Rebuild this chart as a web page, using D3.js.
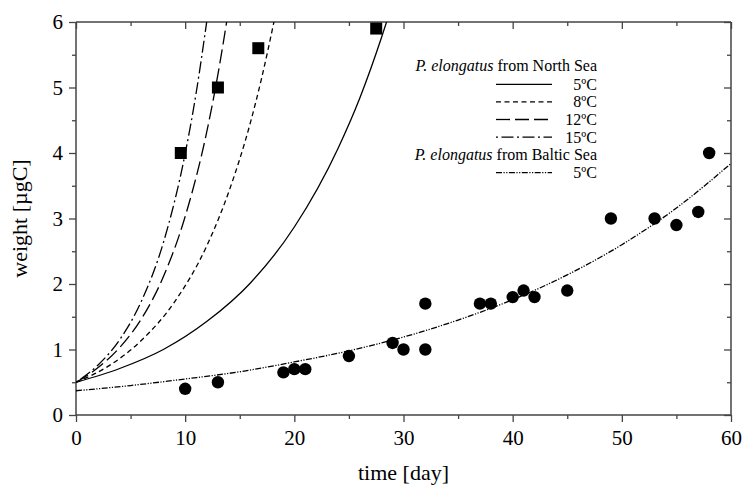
<!DOCTYPE html>
<html>
<head>
<meta charset="utf-8">
<script src="https://cdn.jsdelivr.net/npm/d3@7"></script>
<style>
  html, body { margin: 0; padding: 0; background: #fff; }
  svg { display: block; }
  text { font-family: "Liberation Serif", "Times New Roman", serif; fill: #000; }
</style>
</head>
<body>
<svg id="chart" width="744" height="487"></svg>
<script>
// Measured growth of P. elongatus: North Sea (squares), Baltic Sea (circles)
const northDays = [9.6, 13.0, 16.7, 27.5];
const northWeight = [4.0, 5.0, 5.6, 5.9];

const balticDays = [10, 13, 19, 20, 21, 25, 29, 30, 32, 32, 37, 38, 40, 41, 42, 45, 49, 53, 55, 57, 58];
const balticWeight = [0.4, 0.5, 0.65, 0.7, 0.7, 0.9, 1.1, 1.0, 1.0, 1.7, 1.7, 1.7, 1.8, 1.9, 1.8, 1.9, 3.0, 3.0, 2.9, 3.1, 4.0];

// Model growth curves (day, weight) points
const curve5Days = [0, 4, 8, 12, 16, 20, 24, 26, 28, 28.45];
const curve5Weight = [0.5, 0.71, 1.0, 1.43, 2.02, 2.87, 4.07, 4.84, 5.77, 6.0];

const curve8Days = [0, 3, 6, 9, 12, 14, 16, 17, 18.13];
const curve8Weight = [0.5, 0.75, 1.14, 1.72, 2.59, 3.41, 4.48, 5.14, 6.0];

const curve12Days = [0, 2, 4, 6, 8, 10, 12, 13, 13.8];
const curve12Weight = [0.5, 0.72, 1.03, 1.47, 2.11, 3.03, 4.34, 5.2, 6.0];

const curve15Days = [0, 2, 4, 6, 8, 10, 11, 11.97];
const curve15Weight = [0.5, 0.76, 1.15, 1.74, 2.63, 3.99, 4.91, 6.0];

const curveBalticDays = [0, 5, 10, 15, 20, 25, 30, 35, 40, 45, 50, 55, 60];
const curveBalticWeight = [0.37, 0.45, 0.55, 0.66, 0.81, 0.98, 1.19, 1.45, 1.76, 2.14, 2.6, 3.16, 3.84];

// Axis ticks
const xTicks = [0, 10, 20, 30, 40, 50, 60];
const xMinor = [5, 15, 25, 35, 45, 55];
const yTicks = [0, 1, 2, 3, 4, 5, 6];
const yMinor = [0.5, 1.5, 2.5, 3.5, 4.5, 5.5];

// Legend entries
const legendNorthLabels = ["5ºC", "8ºC", "12ºC", "15ºC"];
const legendBalticLabels = ["5ºC"];

const svg = d3.select("#chart");
const margin = { left: 76, right: 13, top: 22, bottom: 72 };
const W = 744, H = 487;
const x = d3.scaleLinear().domain([0, 60]).range([margin.left, W - margin.right]);
const y = d3.scaleLinear().domain([0, 6]).range([H - margin.bottom, margin.top]);

const dashes = {
  c5: null,
  c8: "5,3.5",
  c12: "14,5",
  c15: "2,3.5,12,3.5",
  baltic: "6,1.5,1.2,1.5,1.2,1.5"
};

svg.append("defs").append("clipPath").attr("id", "plotClip")
  .append("rect")
  .attr("x", x(0)).attr("y", y(6))
  .attr("width", x(60) - x(0)).attr("height", y(0) - y(6));

const axisColor = "#444";
const tickFont = "21px";
const titleFont = "22px";
const legendFont = "16px";

// Frame
const frame = svg.append("g");
frame.append("line").attr("x1", x(0)).attr("x2", x(60)).attr("y1", y(0)).attr("y2", y(0));
frame.append("line").attr("x1", x(0)).attr("x2", x(60)).attr("y1", y(6)).attr("y2", y(6));
frame.append("line").attr("x1", x(0)).attr("x2", x(0)).attr("y1", y(0)).attr("y2", y(6));
frame.append("line").attr("x1", x(60)).attr("x2", x(60)).attr("y1", y(0)).attr("y2", y(6));
frame.selectAll("line").attr("stroke", axisColor).attr("stroke-width", 1.5);

// Bottom axis (outward ticks)
const xAxis = d3.axisBottom(x).tickValues(xTicks).tickSize(7).tickPadding(8).tickFormat(d3.format("d"));
const gx = svg.append("g").attr("transform", `translate(0,${y(0)})`).call(xAxis);
gx.select(".domain").remove();
gx.selectAll("line").attr("stroke", axisColor).attr("stroke-width", 1.3);
gx.selectAll("text").style("font-size", tickFont).style("font-family", '"Liberation Serif", serif');
svg.append("g").attr("transform", `translate(0,${y(0)})`)
  .call(d3.axisBottom(x).tickValues(xMinor).tickSize(4).tickFormat(""))
  .call(g => g.select(".domain").remove())
  .selectAll("line").attr("stroke", axisColor).attr("stroke-width", 1.3);

// Top axis (inward ticks)
svg.append("g").attr("transform", `translate(0,${y(6)})`)
  .call(d3.axisTop(x).tickValues(xTicks).tickSize(-7).tickFormat(""))
  .call(g => g.select(".domain").remove())
  .selectAll("line").attr("stroke", axisColor).attr("stroke-width", 1.3);
svg.append("g").attr("transform", `translate(0,${y(6)})`)
  .call(d3.axisTop(x).tickValues(xMinor).tickSize(-4).tickFormat(""))
  .call(g => g.select(".domain").remove())
  .selectAll("line").attr("stroke", axisColor).attr("stroke-width", 1.3);

// Left axis (outward ticks)
const gy = svg.append("g").attr("transform", `translate(${x(0)},0)`)
  .call(d3.axisLeft(y).tickValues(yTicks).tickSize(7).tickPadding(6).tickFormat(d3.format("d")));
gy.select(".domain").remove();
gy.selectAll("line").attr("stroke", axisColor).attr("stroke-width", 1.3);
gy.selectAll("text").style("font-size", tickFont).style("font-family", '"Liberation Serif", serif');
svg.append("g").attr("transform", `translate(${x(0)},0)`)
  .call(d3.axisLeft(y).tickValues(yMinor).tickSize(4).tickFormat(""))
  .call(g => g.select(".domain").remove())
  .selectAll("line").attr("stroke", axisColor).attr("stroke-width", 1.3);

// Right axis (inward ticks)
svg.append("g").attr("transform", `translate(${x(60)},0)`)
  .call(d3.axisRight(y).tickValues(yTicks).tickSize(-7).tickFormat(""))
  .call(g => g.select(".domain").remove())
  .selectAll("line").attr("stroke", axisColor).attr("stroke-width", 1.3);
svg.append("g").attr("transform", `translate(${x(60)},0)`)
  .call(d3.axisRight(y).tickValues(yMinor).tickSize(-4).tickFormat(""))
  .call(g => g.select(".domain").remove())
  .selectAll("line").attr("stroke", axisColor).attr("stroke-width", 1.3);

// Axis titles
svg.append("text")
  .attr("x", (x(0) + x(60)) / 2).attr("y", 480)
  .attr("text-anchor", "middle").style("font-size", titleFont)
  .text("time [day]");
svg.append("text")
  .attr("transform", `translate(27,${(y(0) + y(6)) / 2}) rotate(-90)`)
  .attr("text-anchor", "middle").style("font-size", titleFont)
  .text("weight [µgC]");

// Growth curves
const line = d3.line().x(d => x(d[0])).y(d => y(d[1])).curve(d3.curveMonotoneX);
const curves = [
  { days: curve5Days, w: curve5Weight, dash: dashes.c5 },
  { days: curve8Days, w: curve8Weight, dash: dashes.c8 },
  { days: curve12Days, w: curve12Weight, dash: dashes.c12 },
  { days: curve15Days, w: curve15Weight, dash: dashes.c15 },
  { days: curveBalticDays, w: curveBalticWeight, dash: dashes.baltic }
];
const plot = svg.append("g").attr("clip-path", "url(#plotClip)");
curves.forEach(c => {
  plot.append("path")
    .datum(d3.zip(c.days, c.w))
    .attr("d", line)
    .attr("fill", "none")
    .attr("stroke", "#000")
    .attr("stroke-width", 1.3)
    .attr("stroke-dasharray", c.dash);
});

// Data points
const sq = 12;
svg.append("g").selectAll("rect")
  .data(d3.zip(northDays, northWeight))
  .join("rect")
  .attr("x", d => x(d[0]) - sq / 2).attr("y", d => y(d[1]) - sq / 2)
  .attr("width", sq).attr("height", sq).attr("fill", "#000");

svg.append("g").selectAll("circle")
  .data(d3.zip(balticDays, balticWeight))
  .join("circle")
  .attr("cx", d => x(d[0])).attr("cy", d => y(d[1]))
  .attr("r", 6.2).attr("fill", "#000");

// Legend
const legend = svg.append("g");
const lgRight = 597, lgLineX1 = 496, lgLineX2 = 552, rowH = 17.6;
function legendTitle(yPos, where) {
  const t = legend.append("text").attr("x", lgRight).attr("y", yPos)
    .attr("text-anchor", "end").style("font-size", legendFont);
  t.append("tspan").style("font-style", "italic").text("P. elongatus");
  t.append("tspan").text(" from " + where);
}
function legendRow(yMid, label, dash) {
  legend.append("line")
    .attr("x1", lgLineX1).attr("x2", lgLineX2).attr("y1", yMid).attr("y2", yMid)
    .attr("stroke", "#000").attr("stroke-width", 1.3).attr("stroke-dasharray", dash);
  legend.append("text").attr("x", lgRight).attr("y", yMid + 5.5)
    .attr("text-anchor", "end").style("font-size", legendFont).text(label);
}
legendTitle(71, "North Sea");
const northDashes = [dashes.c5, dashes.c8, dashes.c12, dashes.c15];
legendNorthLabels.forEach((lab, i) => legendRow(84.3 + i * rowH, lab, northDashes[i]));
legendTitle(160, "Baltic Sea");
legendBalticLabels.forEach((lab, i) => legendRow(172.7 + i * rowH, lab, dashes.baltic));
</script>
</body>
</html>
